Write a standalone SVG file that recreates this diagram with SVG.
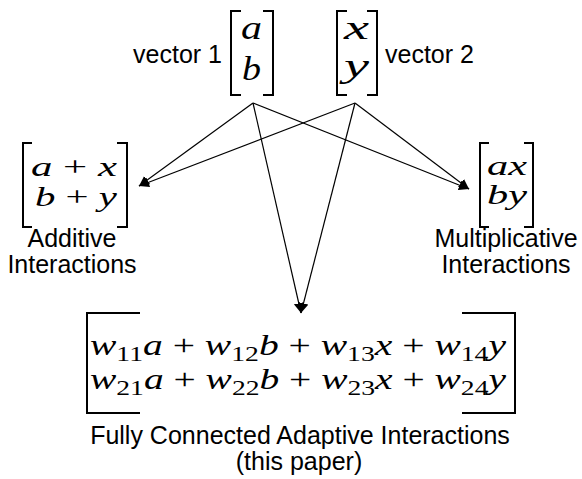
<svg xmlns="http://www.w3.org/2000/svg" width="582" height="479" viewBox="0 0 582 479">
<defs>
<style>
.lbl{font-family:"Liberation Sans",Arial,Helvetica,sans-serif;font-size:25px;fill:#000}
.m{font-family:"Liberation Serif","Times New Roman",serif;font-style:italic;fill:#000}
.up{font-style:normal}
.br{fill:none;stroke:#000;stroke-width:2}
.conn{stroke:#000;stroke-width:1.2;fill:none}
</style>
<marker id="ah" markerUnits="userSpaceOnUse" markerWidth="11" markerHeight="11" refX="10" refY="5" orient="auto">
<path d="M0,0 L10,5 L0,10 z" fill="#000"/>
</marker>
</defs>
<rect width="582" height="479" fill="#fff"/>

<g id="vector1">
<text class="lbl" x="222" y="63" text-anchor="end">vector 1</text>
<path class="br" d="M241,11 H231 V95 H241 M263,11 H273 V95 H263"/>
<text class="m" font-size="34" x="241" y="39" textLength="21" lengthAdjust="spacingAndGlyphs">a</text>
<text class="m" font-size="34" x="242" y="80" textLength="19" lengthAdjust="spacingAndGlyphs">b</text>
</g>

<g id="vector2">
<path class="br" d="M347,11 H337 V95 H347 M367,11 H377 V95 H367"/>
<text class="m" font-size="34" x="344" y="39" textLength="25" lengthAdjust="spacingAndGlyphs">x</text>
<text class="m" font-size="34" x="344" y="77" textLength="25" lengthAdjust="spacingAndGlyphs">y</text>
<text class="lbl" x="385" y="63">vector 2</text>
</g>

<g id="additive">
<path class="br" d="M32,143 H23 V227 H32 M117,143 H127 V227 H117"/>
<text class="m" font-size="28" x="31" y="176" textLength="86" lengthAdjust="spacingAndGlyphs">a<tspan class="up"> + </tspan>x</text>
<text class="m" font-size="28" x="35" y="206" textLength="82" lengthAdjust="spacingAndGlyphs">b<tspan class="up"> + </tspan>y</text>
<text class="lbl" x="72" y="247" text-anchor="middle">Additive</text>
<text class="lbl" x="72" y="273" text-anchor="middle">Interactions</text>
</g>

<g id="multiplicative">
<path class="br" d="M489,143 H480 V227 H489 M524,143 H533 V227 H524"/>
<text class="m" font-size="28" x="487" y="175" textLength="40" lengthAdjust="spacingAndGlyphs">ax</text>
<text class="m" font-size="28" x="487" y="204" textLength="40" lengthAdjust="spacingAndGlyphs">by</text>
<text class="lbl" x="506" y="247" text-anchor="middle">Multiplicative</text>
<text class="lbl" x="506" y="273" text-anchor="middle">Interactions</text>
</g>

<g id="fully-connected">
<path class="br" d="M140,313 H87 V413 H140 M462,313 H515 V413 H462"/>
<text class="m" font-size="30" x="90" y="355" textLength="416" lengthAdjust="spacingAndGlyphs">w<tspan class="up" font-size="21" dy="6">11</tspan><tspan dy="-6">a</tspan><tspan class="up"> + </tspan>w<tspan class="up" font-size="21" dy="6">12</tspan><tspan dy="-6">b</tspan><tspan class="up"> + </tspan>w<tspan class="up" font-size="21" dy="6">13</tspan><tspan dy="-6">x</tspan><tspan class="up"> + </tspan>w<tspan class="up" font-size="21" dy="6">14</tspan><tspan dy="-6">y</tspan></text>
<text class="m" font-size="30" x="90" y="389" textLength="416" lengthAdjust="spacingAndGlyphs">w<tspan class="up" font-size="21" dy="6">21</tspan><tspan dy="-6">a</tspan><tspan class="up"> + </tspan>w<tspan class="up" font-size="21" dy="6">22</tspan><tspan dy="-6">b</tspan><tspan class="up"> + </tspan>w<tspan class="up" font-size="21" dy="6">23</tspan><tspan dy="-6">x</tspan><tspan class="up"> + </tspan>w<tspan class="up" font-size="21" dy="6">24</tspan><tspan dy="-6">y</tspan></text>
<text class="lbl" x="300" y="444" text-anchor="middle">Fully Connected Adaptive Interactions</text>
<text class="lbl" x="299" y="470" text-anchor="middle">(this paper)</text>
</g>

<g id="connectors">
<line class="conn" x1="253" y1="103" x2="139" y2="186" marker-end="url(#ah)"/>
<line class="conn" x1="253" y1="103" x2="469" y2="189" marker-end="url(#ah)"/>
<line class="conn" x1="253" y1="103" x2="301" y2="313" marker-end="url(#ah)"/>
<line class="conn" x1="355" y1="103" x2="139" y2="186" marker-end="url(#ah)"/>
<line class="conn" x1="355" y1="103" x2="469" y2="189" marker-end="url(#ah)"/>
<line class="conn" x1="355" y1="103" x2="301" y2="313" marker-end="url(#ah)"/>
</g>
</svg>
